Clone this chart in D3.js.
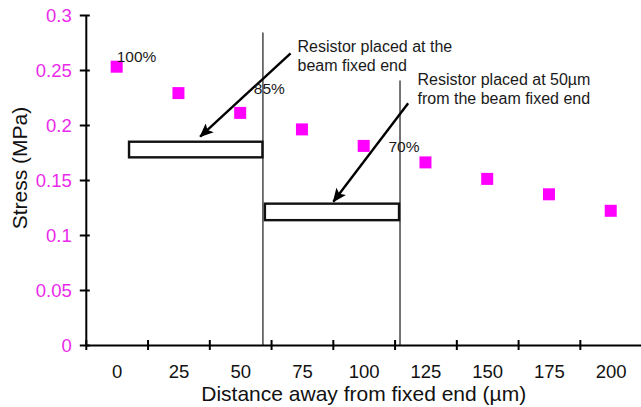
<!DOCTYPE html>
<html><head><meta charset="utf-8">
<script src="https://cdn.jsdelivr.net/npm/d3@7"></script>
<style>
html,body{margin:0;padding:0;background:#fff;}
svg{display:block;font-family:"Liberation Sans",Arial,Helvetica,sans-serif;}
</style></head>
<body><svg id="c" width="641" height="407"></svg>
<script>
// Data
const distances = [0, 25, 50, 75, 100, 125, 150, 175, 200];
const stress = [0.253, 0.229, 0.211, 0.196, 0.181, 0.166, 0.151, 0.137, 0.122];
const yTicks = [0, 0.05, 0.1, 0.15, 0.2, 0.25, 0.3];
const yTickLabels = ["0", "0.05", "0.1", "0.15", "0.2", "0.25", "0.3"];
const pctLabels = ["100%", "85%", "70%"];
const pctX = [0, 55.5, 110];
const pctY = [0.2575, 0.2285, 0.1755];
const beamNames = ["Resistor placed at the beam fixed end", "Resistor placed at 50\u00b5m from the beam fixed end"];
const beamX0 = [5, 60];
const beamX1 = [59, 114.3];
const beamTop = [0.1848, 0.1285];
const beamBot = [0.1706, 0.1135];
const wallX = [59.2, 114.7];
const wallTop = [0.284, 0.2405];
const arrowFrom = [[70.4, 0.2652], [118, 0.2197]];
const arrowTo = [[33.8, 0.1894], [87.7, 0.1303]];
const noteLines = [["Resistor placed at the", "beam fixed end"], ["Resistor placed at 50\u00b5m", "from the beam fixed end"]];
const noteX = [73.2, 121.8];
const noteY = [0.2666, 0.2367];

const svg = d3.select("#c");
const L = 85.8, T = 15, B = 345, R = 641.6;
const x = d3.scaleLinear().domain([-12.5, 212.5]).range([L, R]);
const y = d3.scaleLinear().domain([0, 0.3]).range([B, T]);
const magenta = "#ff00ff";
const labMag = "#ea2aea";

// walls (vertical lines)
svg.selectAll("line.wall").data(wallX).join("line")
  .attr("x1", d => x(d)).attr("x2", d => x(d))
  .attr("y1", (d, i) => y(wallTop[i])).attr("y2", y(0))
  .attr("stroke", "#3a3a3a").attr("stroke-width", 1.4);

// beams
svg.selectAll("rect.beam").data(beamX0).join("rect")
  .attr("x", d => x(d)).attr("width", (d, i) => x(beamX1[i]) - x(d))
  .attr("y", (d, i) => y(beamTop[i])).attr("height", (d, i) => y(beamBot[i]) - y(beamTop[i]))
  .attr("fill", "#fff").attr("stroke", "#111").attr("stroke-width", 2.4);

// arrows
const defs = svg.append("defs");
defs.append("marker").attr("id", "ah").attr("viewBox", "0 0 14 12")
  .attr("refX", 13).attr("refY", 6).attr("markerWidth", 14).attr("markerHeight", 12)
  .attr("markerUnits", "userSpaceOnUse").attr("orient", "auto")
  .append("path").attr("d", "M0,0 L14,6 L0,12 L3,6 Z").attr("fill", "#000");
svg.selectAll("line.arrow").data(arrowFrom).join("line")
  .attr("x1", d => x(d[0])).attr("y1", d => y(d[1]))
  .attr("x2", (d, i) => x(arrowTo[i][0])).attr("y2", (d, i) => y(arrowTo[i][1]))
  .attr("stroke", "#000").attr("stroke-width", 2.4).attr("marker-end", "url(#ah)");

// notes
noteLines.forEach((lines, i) => {
  const t = svg.append("text").attr("font-size", 16).attr("fill", "#1a1a1a");
  lines.forEach((s, j) => {
    t.append("tspan").attr("x", x(noteX[i])).attr("y", y(noteY[i]) + j * 19.5).text(s);
  });
});

// points
svg.selectAll("rect.pt").data(distances).join("rect")
  .attr("x", d => x(d) - 6).attr("y", (d, i) => y(stress[i]) - 6)
  .attr("width", 12).attr("height", 12).attr("fill", magenta);

// percent labels
svg.selectAll("text.pct").data(pctLabels).join("text")
  .attr("x", (d, i) => x(pctX[i])).attr("y", (d, i) => y(pctY[i]))
  .attr("font-size", 15.5).attr("fill", "#1a1a1a").text(d => d);

// y axis
const yAxis = svg.append("g").attr("transform", `translate(${L},0)`)
  .call(d3.axisLeft(y).tickValues(yTicks).tickFormat((d, i) => yTickLabels[i]).tickSizeInner(6).tickSizeOuter(0).tickPadding(8));
yAxis.select(".domain").attr("stroke", "#000").attr("stroke-width", 2);
yAxis.selectAll(".tick line").attr("stroke", "#000").attr("stroke-width", 2).attr("x2", 4).attr("x1", -6);
yAxis.selectAll(".tick text").attr("font-size", 18.5).attr("fill", labMag).attr("font-family", "Liberation Sans, Arial, sans-serif").attr("dy", "0.35em");

// x axis
const bounds = d3.range(0, 10).map(i => -12.5 + i * 25);
const xAxis = svg.append("g").attr("transform", `translate(0,${B})`)
  .call(d3.axisBottom(x).tickValues(bounds).tickFormat("").tickSizeInner(5).tickSizeOuter(0));
xAxis.select(".domain").attr("stroke", "#000").attr("stroke-width", 2);
xAxis.selectAll(".tick line").attr("stroke", "#000").attr("stroke-width", 2).attr("y1", -5).attr("y2", 5);
const xLab = svg.append("g").attr("transform", `translate(0,${B})`)
  .call(d3.axisBottom(x).tickValues(distances).tickFormat(d3.format("d")).tickSize(0).tickPadding(20));
xLab.select(".domain").remove();
xLab.selectAll(".tick text").attr("font-size", 18.5).attr("fill", "#111").attr("font-family", "Liberation Sans, Arial, sans-serif");

// titles
svg.append("text").attr("x", x(100)).attr("y", 401).attr("text-anchor", "middle")
  .attr("font-size", 21).attr("fill", "#111").text("Distance away from fixed end (\u00b5m)");
svg.append("text").attr("transform", `translate(27,168) rotate(-90)`).attr("text-anchor", "middle")
  .attr("font-size", 21).attr("fill", "#111").text("Stress (MPa)");
</script></body></html>
